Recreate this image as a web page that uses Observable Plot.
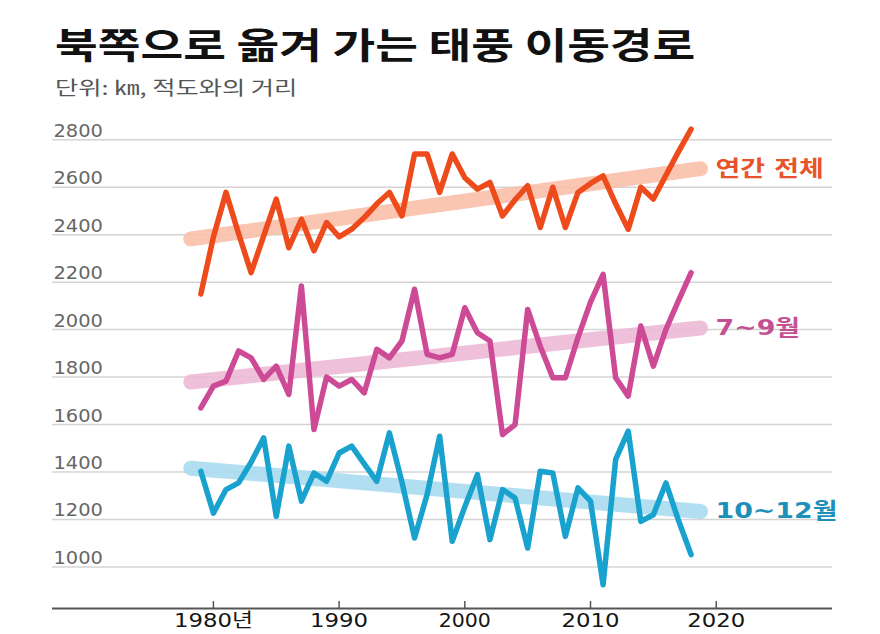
<!DOCTYPE html>
<html><head><meta charset="utf-8">
<script src="https://cdn.jsdelivr.net/npm/d3@7"></script>
<script src="https://cdn.jsdelivr.net/npm/@observablehq/plot@0.6"></script>
<style>
html,body{margin:0;padding:0;background:#fff;}
#wrap{width:880px;height:634px;position:relative;overflow:hidden;background:#fff;}
#head{position:relative;height:110px;}
#title{position:absolute;left:55px;top:21px;font-family:"Noto Sans CJK KR";font-weight:700;font-size:36px;line-height:44px;color:#111;transform:scaleX(1.29);transform-origin:left top;white-space:nowrap;}
#sub{position:absolute;left:55px;top:76px;font-family:"Noto Sans CJK KR";font-weight:400;font-size:19px;line-height:22px;color:#555;transform:scaleX(1.33);transform-origin:left top;white-space:nowrap;}
#chart svg{display:block;}
</style>
</head><body>
<div id="wrap">
  <div id="head"><div id="title"></div><div id="sub"></div></div>
  <div id="chart"></div>
</div>
<script>
const titleText = "북쪽으로 옮겨 가는 태풍 이동경로";
const subtitleText = "단위: ㎞, 적도와의 거리";

const years = d3.range(1979, 2019);
const annual = [2150, 2390, 2578, 2405, 2240, 2395, 2550, 2345, 2465, 2332,
                2451, 2391, 2423, 2472, 2530, 2578, 2479, 2740, 2740, 2578,
                2740, 2640, 2592, 2620, 2479, 2547, 2606, 2430, 2600, 2430,
                2578, 2616, 2648, 2530, 2423, 2600, 2550, 2650, 2750, 2845];
const julSep = [1670, 1762, 1783, 1910, 1881, 1790, 1846, 1727, 2184, 1579,
                1800, 1762, 1790, 1734, 1917, 1881, 1952, 2170, 1896, 1881,
                1896, 2092, 1987, 1952, 1558, 1600, 2085, 1930, 1797, 1797,
                1966, 2116, 2233, 1797, 1720, 2015, 1846, 2001, 2122, 2240];
const octDec = [1403, 1227, 1326, 1354, 1441, 1544, 1213, 1509, 1277, 1396,
                1361, 1480, 1509, 1434, 1361, 1565, 1357, 1122, 1305, 1551,
                1108, 1254, 1389, 1115, 1326, 1290, 1080, 1403, 1396, 1129,
                1333, 1277, 925, 1453, 1572, 1192, 1220, 1354, 1196, 1052];

const trendYears = [1978.2, 2018.75];
const annualTrend = [2382, 2678];
const julSepTrend = [1779, 2007];
const octDecTrend = [1416, 1234];

const seriesNames = ["연간 전체", "7~9월", "10~12월"];
const lineColors = ["#ee4b1c", "#cd4a97", "#1aa2cf"];
const bandColors = ["#f9bfa9", "#edb9d5", "#a9dbef"];
const labelColors = ["#e8542a", "#c44f93", "#1d90ba"];

const yTicks = [1000, 1200, 1400, 1600, 1800, 2000, 2200, 2400, 2600, 2800];
const xTicks = [1980, 1990, 2000, 2010, 2020];
const xTickLabels = ["1980년", "1990", "2000", "2010", "2020"];
const xDomain = [1967.2, 2029.25];
const yDomain = [825, 2881];

document.getElementById("title").textContent = titleText;
document.getElementById("sub").textContent = subtitleText;

const valuesList = [annual, julSep, octDec];
const trendList = [annualTrend, julSepTrend, octDecTrend];

const marks = [
  Plot.ruleY(yTicks, {y: d => d, stroke: "#d4d4d4", strokeWidth: 1.5}),
  Plot.ruleY([yDomain[0]], {stroke: "#555", strokeWidth: 2}),
  Plot.tickX(xTicks, {x: d => d, stroke: "#555", strokeWidth: 1.5, insetTop: 481}),
  Plot.text(yTicks, {y: d => d, text: d => String(d), frameAnchor: "left", textAnchor: "start",
    lineAnchor: "bottom", dx: 1, dy: -3, fill: "#666", fontSize: 18, fontFamily: "DejaVu Sans"}),
  Plot.text(xTicks, {x: d => d, text: (d, i) => xTickLabels[i], frameAnchor: "bottom", lineAnchor: "top",
    dy: 5, fill: "#151515", fontSize: 19, fontFamily: "DejaVu Sans, Noto Sans CJK KR"})
];

valuesList.forEach((vals, k) => {
  const tr = trendYears.map((yr, i) => ({year: yr, value: trendList[k][i]}));
  marks.push(Plot.line(tr, {x: "year", y: "value", stroke: bandColors[k], strokeWidth: 15,
    strokeLinecap: "round", strokeOpacity: 0.9}));
});
valuesList.forEach((vals, k) => {
  const rows = years.map((yr, i) => ({year: yr, value: vals[i]}));
  marks.push(Plot.line(rows, {x: "year", y: "value", stroke: lineColors[k], strokeWidth: 5.5,
    strokeLinejoin: "round", strokeLinecap: "round"}));
});
valuesList.forEach((vals, k) => {
  const end = {year: trendYears[1], value: trendList[k][1], name: seriesNames[k]};
  marks.push(Plot.text([end], {x: "year", y: "value", text: "name", dx: 15, textAnchor: "start",
    fill: labelColors[k], fontSize: 22, fontWeight: "bold",
    fontFamily: "DejaVu Sans, Noto Sans CJK KR"}));
});

const chart = Plot.plot({
  width: 880,
  height: 524,
  marginLeft: 52,
  marginRight: 48,
  marginTop: 10,
  marginBottom: 26,
  x: {domain: xDomain, axis: null},
  y: {domain: yDomain, axis: null},
  style: {background: "white", overflow: "visible"},
  marks
});
document.getElementById("chart").appendChild(chart);

// widen glyphs horizontally (the source image is stretched) without moving the anchor
function stretch(el, s) {
  const len = el.getComputedTextLength();
  if (len > 0) {
    el.setAttribute("textLength", (len * s).toFixed(1));
    el.setAttribute("lengthAdjust", "spacingAndGlyphs");
  }
}
const yLabelSet = new Set(yTicks.map(String));
const xLabelSet = new Set(xTickLabels);
const seriesSet = new Set(seriesNames);
d3.select(chart).selectAll("text").each(function() {
  const t = this.textContent;
  if (yLabelSet.has(t)) stretch(this, 1.08);
  else if (xLabelSet.has(t)) stretch(this, 1.2);
  else if (seriesSet.has(t)) stretch(this, 1.22);
});
</script>
</body></html>
